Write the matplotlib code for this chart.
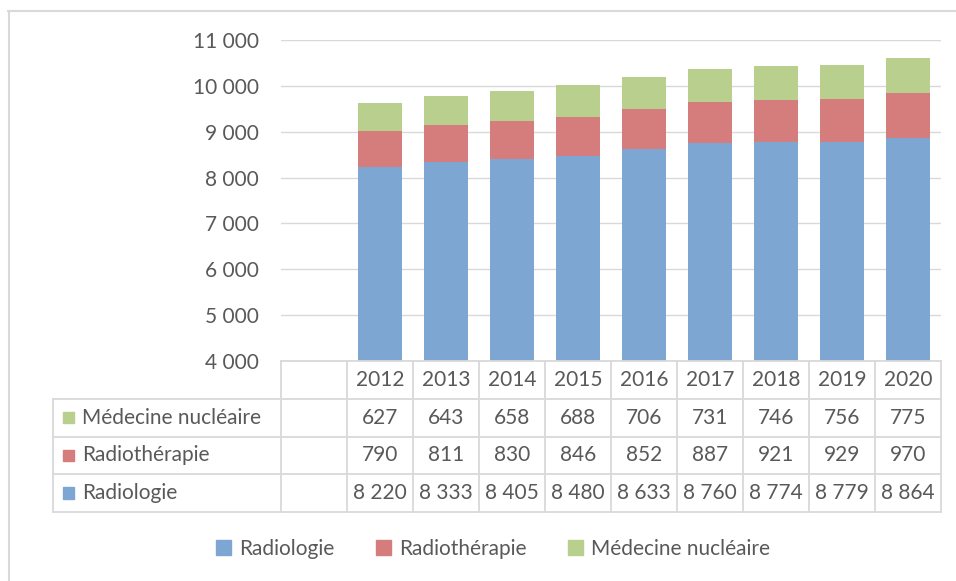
import matplotlib.pyplot as plt
import numpy as np
from matplotlib.patches import Patch, Rectangle
from matplotlib.lines import Line2D

# data
years = ['2012', '2013', '2014', '2015', '2016', '2017', '2018', '2019', '2020']
radiologie = [8220, 8333, 8405, 8480, 8633, 8760, 8774, 8779, 8864]
radiotherapie = [790, 811, 830, 846, 852, 887, 921, 929, 970]
medecine_nucleaire = [627, 643, 658, 688, 706, 731, 746, 756, 775]

series_names = ['Radiologie', 'Radiothérapie', 'Médecine nucléaire']
colors = ['#7EA6D2', '#D47D7C', '#B8CF8D']
text_col = '#595959'
grid_col = '#d9d9d9'

plt.rcParams['font.family'] = ['Lato', 'DejaVu Sans']
plt.rcParams['font.size'] = 15

W, H = 956, 581
fig = plt.figure(figsize=(W / 100, H / 100), dpi=100)


def fx(px):
    return px / W


def fy(py):
    return 1 - py / H


def fmt(v):
    return f'{v:,}'.replace(',', ' ')


# main plot area
ax = fig.add_axes([fx(281), fy(361), fx(941) - fx(281), fy(40) - fy(361)])
x = np.arange(len(years))
bottom = np.zeros(len(years))
for vals, c in zip([radiologie, radiotherapie, medecine_nucleaire], colors):
    ax.bar(x, vals, width=0.67, bottom=bottom, color=c, zorder=2)
    bottom += np.array(vals)

ax.set_xlim(-1.5, len(years) - 0.5)
ax.set_ylim(4000, 11000)
ax.set_yticks(np.arange(4000, 11001, 1000))
ax.set_yticklabels([fmt(v) for v in range(4000, 11001, 1000)], color=text_col)
ax.yaxis.grid(True, color=grid_col, lw=1, zorder=0)
ax.set_xticks([])
ax.tick_params(axis='y', length=0, pad=16)
for s in ax.spines.values():
    s.set_visible(False)

# data table under the plot, sharing the x scale
axt = fig.add_axes([fx(281), fy(512), fx(941) - fx(281), fy(361) - fy(512)], sharex=ax)
axt.set_ylim(0, 4)
axt.axis('off')
rows = [medecine_nucleaire, radiotherapie, radiologie]
row_cols = [colors[2], colors[1], colors[0]]
row_names = [series_names[2], series_names[1], series_names[0]]
left = -4.95
lw = 1.3
# horizontal lines
axt.plot([-1.5, len(years) - 0.5], [4, 4], color=grid_col, lw=lw, clip_on=False)
for yy in [3, 2, 1, 0]:
    axt.plot([left, len(years) - 0.5], [yy, yy], color=grid_col, lw=lw, clip_on=False)
# vertical lines
axt.plot([left, left], [0, 3], color=grid_col, lw=lw, clip_on=False)
for xx in np.arange(-1.5, len(years), 1.0):
    axt.plot([xx, xx], [0, 4], color=grid_col, lw=lw, clip_on=False)

for i, yr in enumerate(years):
    axt.text(i, 3.5, yr, ha='center', va='center', color=text_col)
for r, (vals, c, name) in enumerate(zip(rows, row_cols, row_names)):
    yc = 2.5 - r
    axt.add_patch(Rectangle((left + 0.14, yc - 0.15), 0.17, 0.3, color=c, clip_on=False))
    axt.text(left + 0.43, yc, name, ha='left', va='center', color=text_col)
    for i, v in enumerate(vals):
        axt.text(i, yc, fmt(v), ha='center', va='center', color=text_col)

# legend
handles = [Patch(color=c, label=n) for c, n in zip(colors, series_names)]
fig.legend(handles=handles, loc='center', bbox_to_anchor=(fx(493), fy(549)), ncol=3,
           frameon=False, handlelength=0.7, handleheight=0.7, handletextpad=0.4,
           columnspacing=2.0, labelcolor=text_col)

# chart border
fig.add_artist(Line2D([fx(8.5), fx(8.5)], [0, fy(11)], color=grid_col, lw=1.5))
fig.add_artist(Line2D([fx(8), 1], [fy(11), fy(11)], color=grid_col, lw=1.5))

fig.savefig('out.png', dpi=100)
